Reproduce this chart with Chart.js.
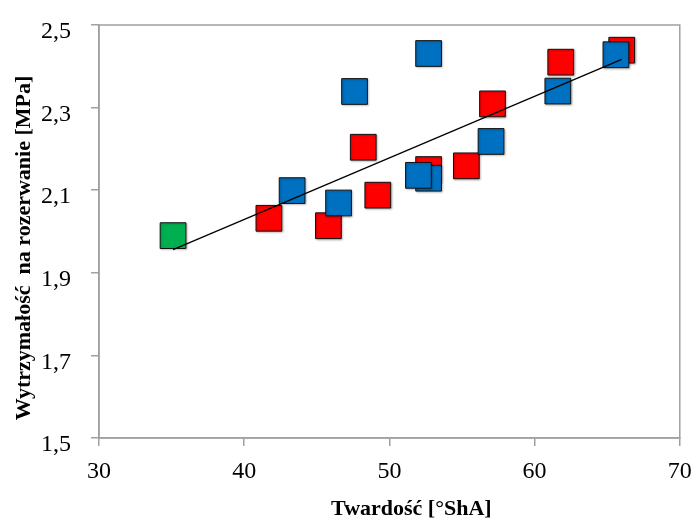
<!DOCTYPE html>
<html>
<head>
<meta charset="utf-8">
<script src="https://cdn.jsdelivr.net/npm/chart.js@4.4.0/dist/chart.umd.min.js"></script>
<style>
  html, body { margin: 0; padding: 0; background: #fff; }
  #wrap { width: 699px; height: 521px; }
</style>
</head>
<body>
<div id="wrap"><canvas id="chartScatter"></canvas></div>
<script>
// values
const redX = [41.7, 45.8, 48.2, 49.2, 52.7, 55.3, 57.1, 61.8, 66.0];
const redY = [2.032, 2.014, 2.204, 2.088, 2.150, 2.159, 2.309, 2.410, 2.439];
const blueX = [43.3, 46.5, 47.6, 52.7, 52.7, 52.0, 57.0, 61.6, 65.6];
const blueY = [2.099, 2.069, 2.339, 2.431, 2.129, 2.136, 2.218, 2.340, 2.428];
const greenX = [35.1];
const greenY = [1.99];
const trendX = [35.1, 66.0];
const trendY = [1.956, 2.417];

const xTicks = [30, 40, 50, 60, 70];
const yTicks = [1.5, 1.7, 1.9, 2.1, 2.3, 2.5];

const axisGrey = '#a0a0a0';
// titles sit a little off-centre in the original, pad with no-break spaces
const pad = (n) => '\u00a0'.repeat(n);

function toPoints(xs, ys) {
    return xs.map((x, i) => ({ x: x, y: ys[i] }));
}

// box round the plot area (top and right sides)
const framePlugin = {
    id: 'frame',
    beforeDatasetsDraw(chart) {
        const a = chart.chartArea;
        const ctx = chart.ctx;
        ctx.save();
        ctx.strokeStyle = axisGrey;
        ctx.lineWidth = 1.5;
        ctx.strokeRect(a.left, a.top, a.right - a.left, a.bottom - a.top);
        ctx.restore();
    },
    // faint shadow under the squares, like the original
    beforeDatasetDraw(chart, args) {
        if (args.index === 0) return;
        const ctx = chart.ctx;
        ctx.save();
        ctx.shadowColor = 'rgba(0,0,0,0.25)';
        ctx.shadowBlur = 2;
        ctx.shadowOffsetX = 1;
        ctx.shadowOffsetY = 1;
    },
    afterDatasetDraw(chart, args) {
        if (args.index === 0) return;
        chart.ctx.restore();
    }
};

function squareSet(label, xs, ys, color, order) {
    return {
        label: label,
        data: toPoints(xs, ys),
        pointStyle: 'rect',
        pointRadius: 18.2,
        pointHoverRadius: 18.2,
        backgroundColor: color,
        borderColor: '#111',
        borderWidth: 1,
        order: order
    };
}

const ctx1 = document.getElementById('chartScatter').getContext('2d');
const scatterChart = new Chart(ctx1, {
    type: 'scatter',
    data: {
        datasets: [
            {
                label: 'trend',
                data: toPoints(trendX, trendY),
                showLine: true,
                borderColor: '#000',
                borderWidth: 1.3,
                pointRadius: 0,
                order: 0
            },
            squareSet('green', greenX, greenY, '#00b050', 1),
            squareSet('blue', blueX, blueY, '#0070c0', 2),
            squareSet('red', redX, redY, '#ff0000', 3)
        ]
    },
    options: {
        responsive: true,
        maintainAspectRatio: false,
        animation: false,
        events: [],
        layout: { padding: { left: 0, right: 14, top: 25, bottom: 0 } },
        plugins: {
            legend: { display: false },
            tooltip: { enabled: false }
        },
        scales: {
            x: {
                type: 'linear',
                min: 30,
                max: 70,
                afterBuildTicks: (scale) => { scale.ticks = xTicks.map(v => ({ value: v })); },
                afterFit: (scale) => {
                    scale.height = 83;
                    scale.paddingLeft = 0;
                    scale.paddingRight = 0;
                },
                border: { color: axisGrey, width: 1.5 },
                grid: { drawOnChartArea: false, color: axisGrey, lineWidth: 1.5, tickLength: 8 },
                ticks: {
                    color: '#000',
                    padding: 11,
                    maxRotation: 0,
                    font: { family: 'Liberation Serif', size: 24 }
                },
                title: {
                    display: true,
                    text: pad(8) + 'Twardość [°ShA]',
                    color: '#000',
                    padding: -2,
                    font: { family: 'Liberation Serif', size: 22, weight: 'bold' }
                }
            },
            y: {
                type: 'linear',
                min: 1.5,
                max: 2.5,
                afterBuildTicks: (scale) => { scale.ticks = yTicks.map(v => ({ value: v })); },
                afterFit: (scale) => {
                    scale.width = 99;
                    scale.paddingTop = 0;
                    scale.paddingBottom = 0;
                },
                border: { color: axisGrey, width: 1.5 },
                grid: { drawOnChartArea: false, color: axisGrey, lineWidth: 1.5, tickLength: 8 },
                ticks: {
                    color: '#000',
                    padding: 20,
                    labelOffset: 7,
                    font: { family: 'Liberation Serif', size: 24 },
                    callback: (v) => v.toFixed(1).replace('.', ',')
                },
                title: {
                    display: true,
                    text: 'Wytrzymałość  na rozerwanie [MPa]' + pad(6),
                    color: '#000',
                    padding: { top: 11, bottom: 0 },
                    font: { family: 'Liberation Serif', size: 22, weight: 'bold' }
                }
            }
        }
    },
    plugins: [framePlugin]
});
</script>
</body>
</html>
